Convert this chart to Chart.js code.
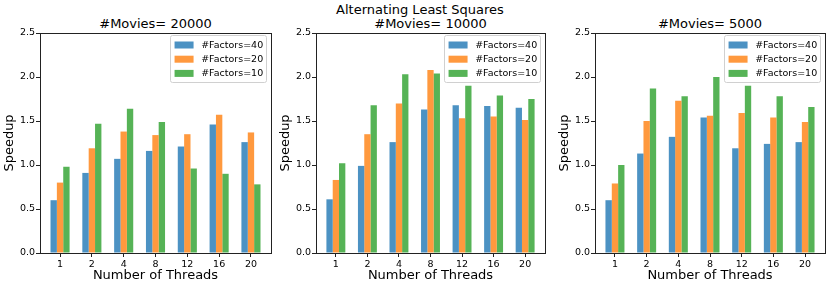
<!DOCTYPE html>
<html><head><meta charset="utf-8">
<script src="https://cdn.jsdelivr.net/npm/chart.js@4/dist/chart.umd.min.js"></script>
<style>
html,body{margin:0;padding:0;background:#fff;width:830px;height:285px;overflow:hidden;}
.t{position:absolute;font-family:'DejaVu Sans';font-size:13px;line-height:16px;color:#000;white-space:nowrap;transform:translateX(-50%);}
canvas{position:absolute;top:0;}
</style></head><body>
<div class="t" style="left:420px;top:1.5px">Alternating Least Squares</div>
<div class="t" id="t0" style="top:15.8px"></div>
<div class="t" id="t1" style="top:15.8px"></div>
<div class="t" id="t2" style="top:15.8px"></div>
<canvas id="c0"></canvas>
<canvas id="c1"></canvas>
<canvas id="c2"></canvas>
<script>
// ---- data ----
const threads = ['1', '2', '4', '8', '12', '16', '20'];
const seriesLabels = ['#Factors=40', '#Factors=20', '#Factors=10'];
const panelTitles = ['#Movies= 20000', '#Movies= 10000', '#Movies= 5000'];
const yTicks = [0, 0.5, 1.0, 1.5, 2.0, 2.5];

const m20000_f40 = [0.60, 0.91, 1.07, 1.16, 1.21, 1.46, 1.26];
const m20000_f20 = [0.80, 1.19, 1.38, 1.34, 1.35, 1.57, 1.37];
const m20000_f10 = [0.98, 1.47, 1.64, 1.49, 0.96, 0.90, 0.78];

const m10000_f40 = [0.61, 0.99, 1.26, 1.63, 1.68, 1.67, 1.65];
const m10000_f20 = [0.83, 1.35, 1.70, 2.08, 1.53, 1.55, 1.51];
const m10000_f10 = [1.02, 1.68, 2.03, 2.04, 1.90, 1.79, 1.75];

const m5000_f40 = [0.60, 1.13, 1.32, 1.54, 1.19, 1.24, 1.26];
const m5000_f20 = [0.79, 1.50, 1.73, 1.56, 1.59, 1.54, 1.49];
const m5000_f10 = [1.00, 1.87, 1.78, 2.00, 1.90, 1.78, 1.66];

// ---- style / layout ----
const colors = ['rgba(31,119,180,0.8)', 'rgba(255,127,14,0.8)', 'rgba(44,160,44,0.8)'];
const FONT = 'DejaVu Sans';
const panels = [
  { series: [m20000_f40, m20000_f20, m20000_f10], left: 40, right: 271 },
  { series: [m10000_f40, m10000_f20, m10000_f10], left: 316, right: 545 },
  { series: [m5000_f40, m5000_f20, m5000_f10], left: 595, right: 825 }
];
const Y_AXIS_W = 40, TOP = 33, BOTTOM = 253, H = 285, PADR = 4;

function align(p) { return Math.round(p - 0.5) + 0.5; }

const framePlugin = {
  id: 'frame',
  afterDraw(chart) {
    const { ctx, chartArea: a } = chart;
    ctx.save();
    ctx.strokeStyle = '#222';
    ctx.lineWidth = 1;
    ctx.strokeRect(align(a.left), align(a.top), align(a.right) - align(a.left), align(a.bottom) - align(a.top));
    ctx.restore();
  }
};

const legendPlugin = {
  id: 'boxLegend',
  afterDraw(chart) {
    const { ctx, chartArea: a } = chart;
    const fs = 9.5;
    ctx.save();
    ctx.font = fs + 'px "' + FONT + '"';
    let tw = 0;
    chart.data.datasets.forEach(d => { tw = Math.max(tw, ctx.measureText(d.label).width); });
    const pad = 3.8, handle = 19, gap = 7.6;
    const w = pad + handle + gap + tw + pad;
    const h = 47;
    const right = a.right - 4, top = a.top + 2;
    const left = right - w;
    ctx.beginPath();
    if (ctx.roundRect) ctx.roundRect(align(left), align(top), Math.round(w), Math.round(h), 2);
    else ctx.rect(align(left), align(top), Math.round(w), Math.round(h));
    ctx.fillStyle = 'rgba(255,255,255,0.8)';
    ctx.fill();
    ctx.strokeStyle = '#d0d0d0';
    ctx.lineWidth = 1;
    ctx.stroke();
    chart.data.datasets.forEach((d, k) => {
      const cy = top + 10 + k * 14.2;
      ctx.fillStyle = d.backgroundColor;
      ctx.fillRect(left + pad, cy - 3.5, handle, 7);
      ctx.fillStyle = '#000';
      ctx.textBaseline = 'middle';
      ctx.textAlign = 'left';
      ctx.fillText(d.label, left + pad + handle + gap, cy + 0.5);
    });
    ctx.restore();
  }
};

panels.forEach((p, idx) => {
  const cv = document.getElementById('c' + idx);
  const W = p.right - p.left;
  cv.width = Y_AXIS_W + W + PADR;
  cv.height = H;
  cv.style.left = (p.left - Y_AXIS_W) + 'px';
  const t = document.getElementById('t' + idx);
  t.textContent = panelTitles[idx];
  t.style.left = ((p.left + p.right) / 2) + 'px';

  new Chart(cv, {
    type: 'bar',
    data: {
      datasets: p.series.map((vals, k) => ({
        label: seriesLabels[k],
        data: vals.map((v, i) => ({ x: i, y: v })),
        backgroundColor: colors[k],
        borderWidth: 0,
        categoryPercentage: 0.6,
        barPercentage: 1.0
      }))
    },
    options: {
      responsive: false,
      animation: false,
      devicePixelRatio: 1,
      layout: { padding: { top: TOP, right: PADR, left: 0, bottom: 0 } },
      scales: {
        x: {
          type: 'linear',
          min: -0.63, max: 6.63,
          offset: false,
          afterBuildTicks: s => { s.ticks = threads.map((_, i) => ({ value: i })); },
          afterFit: s => { s.height = H - BOTTOM; },
          ticks: {
            stepSize: 1,
            includeBounds: false,
            callback: (v, i) => threads[i],
            font: { family: FONT, size: 9.5 },
            color: '#000',
            padding: 2,
            maxRotation: 0,
            autoSkip: false
          },
          grid: { display: true, offset: false, drawOnChartArea: false, drawTicks: true, tickLength: 4, color: '#222' },
          border: { display: true, color: '#222' },
          title: { display: true, text: 'Number of Threads', font: { family: FONT, size: 13 }, color: '#000', padding: { top: 0, bottom: 2 } }
        },
        y: {
          min: 0, max: 2.5,
          afterBuildTicks: s => { s.ticks = yTicks.map(v => ({ value: v })); },
          afterFit: s => { s.width = Y_AXIS_W; },
          ticks: {
            stepSize: 0.5,
            includeBounds: false,
            callback: v => Number(v).toFixed(1),
            font: { family: FONT, size: 9.5 },
            color: '#000',
            padding: 1
          },
          grid: { display: true, offset: false, drawOnChartArea: false, drawTicks: true, tickLength: 4, color: '#222' },
          border: { display: true, color: '#222' },
          title: { display: true, text: 'Speedup', font: { family: FONT, size: 13 }, color: '#000', padding: { top: 2, bottom: 0 } }
        }
      },
      plugins: { legend: { display: false }, tooltip: { enabled: false }, title: { display: false } }
    },
    plugins: [framePlugin, legendPlugin]
  });
});
</script>
</body></html>
